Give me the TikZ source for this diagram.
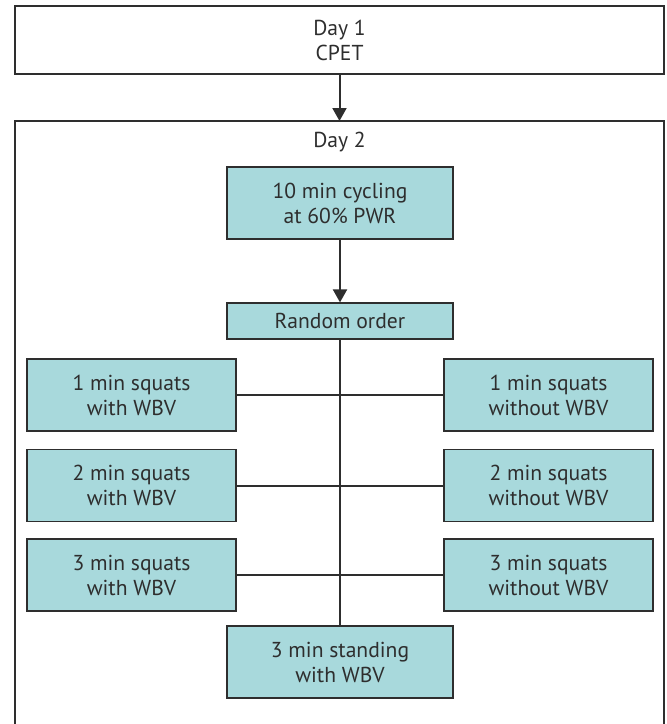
\documentclass[tikz,border=0pt]{standalone}
\usepackage{fontspec}
\setmainfont{PT Sans}
\usetikzlibrary{arrows.meta,positioning}
\definecolor{wbvTeal}{HTML}{A8D9DC}
\definecolor{wbvGray}{HTML}{2E2E2E}
\tikzset{
  flow/.style={-{Triangle[length=6.5pt,width=7pt]}, line width=1pt, draw=wbvGray},
  link/.style={line width=1pt, draw=wbvGray},
  day box/.style={draw=wbvGray, line width=0.8pt, fill=white},
  day label/.style={align=center, font=\fontsize{10.8}{12.5}\selectfont, text=wbvGray},
  task box/.style={draw=wbvGray, line width=0.6pt, fill=wbvTeal,
    align=center, minimum height=36pt, inner sep=0pt,
    font=\fontsize{10.8}{12.5}\selectfont, text=wbvGray},
  wide task/.style={task box, minimum width=113pt},
  side task/.style={task box, minimum width=104.5pt}
}
\begin{document}
\begin{tikzpicture}[x=0.5pt,y=-0.5pt]
  \useasboundingbox (0,0) rectangle (667,724);
  \clip (0,0) rectangle (667,724);
  % day 1
  \node[day box, minimum width=324.5pt, minimum height=34pt, day label]
    (day1) at (339.5,40) {Day 1\\CPET};
  % day 2 frame, bottom edge runs off the page
  \draw[day box] (15,121) rectangle (664,760);
  \coordinate (day2top) at (339.5,121);
  \node[day label] (day2) at (339.5,142) {Day 2};
  \node[wide task] (cycling) at (340,203) {10 min cycling\\at 60\% PWR};
  \node[wide task, minimum height=18pt] (random) at (340,321) {Random order};
  \node[side task] (with1) at (131.5,395) {1 min squats\\with WBV};
  \node[side task] (without1) at (548.5,395) {1 min squats\\without WBV};
  \node[side task] (with2) at (131.5,485.5) {2 min squats\\with WBV};
  \node[side task] (without2) at (548.5,485.5) {2 min squats\\without WBV};
  \node[side task] (with3) at (131.5,575) {3 min squats\\with WBV};
  \node[side task] (without3) at (548.5,575) {3 min squats\\without WBV};
  \node[wide task] (standing) at (340,662) {3 min standing\\with WBV};
  \draw[flow] (day1) -- (day2top);
  \draw[flow] (cycling) -- (random);
  \draw[link] (random) -- (standing);
  \draw[link] (with1) -- (without1);
  \draw[link] (with2) -- (without2);
  \draw[link] (with3) -- (without3);
\end{tikzpicture}
\end{document}
